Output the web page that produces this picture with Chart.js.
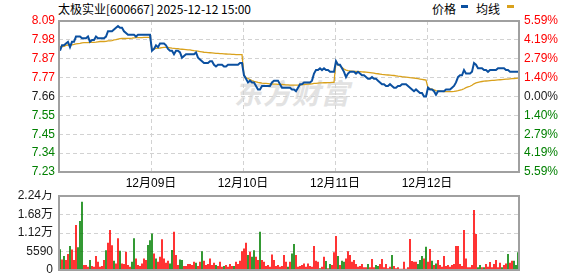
<!DOCTYPE html>
<html>
<head>
<meta charset="utf-8">
<script src="https://cdn.jsdelivr.net/npm/chart.js"></script>
<style>
body{margin:0;background:#fff;}
#wrap{position:relative;width:578px;height:276px;overflow:hidden;font-family:"Noto Sans CJK SC",sans-serif;}
#title{position:absolute;left:58px;top:0px;font-size:12px;line-height:18px;color:#000;white-space:nowrap;}
.lg{position:absolute;top:0px;font-size:12px;line-height:18px;color:#000;white-space:nowrap;}
.mk{position:absolute;top:5px;width:7px;height:3px;}
#mark{position:absolute;left:234px;top:72px;font-size:28px;font-weight:bold;color:#e2e2e2;letter-spacing:1px;white-space:nowrap;font-style:italic;}
canvas{position:absolute;left:0;}
</style>
</head>
<body>
<div id="wrap">
  <div id="mark">东方财富</div>
  <div id="title">太极实业[600667] 2025-12-12 15:00</div>
  <div class="lg" style="left:432px">价格</div>
  <div class="mk" style="left:461px;background:#0b50a0"></div>
  <div class="lg" style="left:476px">均线</div>
  <div class="mk" style="left:507px;background:#d9a11c"></div>
  <canvas id="priceChart" width="578" height="195" style="top:0"></canvas>
  <canvas id="volChart" width="578" height="86" style="top:190px"></canvas>
</div>
<script>
// 昨收 和 涨跌幅范围
const preClose = 7.66;
const maxPct = 5.59;

const dateLabels = ["12月09日", "12月10日", "12月11日", "12月12日"];
const ptsPerDay = 46;

const priceTickLabels = ["7.23","7.34","7.45","7.55","7.66","7.77","7.87","7.98","8.09"];
const pctTickLabels = ["5.59%","4.19%","2.79%","1.40%","0.00%","1.40%","2.79%","4.19%","5.59%"];

const volTicks = [0, 5590, 11180, 16770, 22360];
const volTickLabels = ["0", "5590", "1.12万", "1.68万", "2.24万"];

// 价格 (5 days)
const prices = [
7.92,7.95,7.95,7.96,7.97,7.94,7.97,7.97,8.00,8.00,
8.00,7.99,7.99,7.99,8.00,7.97,7.98,7.98,8.00,7.99,
7.99,7.99,7.99,8.00,8.03,8.03,8.03,8.04,8.05,8.06,
8.05,8.05,8.03,8.02,8.01,8.01,8.01,8.01,8.00,8.01,
8.01,8.01,8.01,8.01,8.01,8.01,
7.92,7.93,7.95,7.94,7.96,7.96,7.96,7.95,7.93,7.92,
7.92,7.90,7.92,7.92,7.91,7.88,7.89,7.90,7.90,7.90,
7.90,7.90,7.91,7.88,7.87,7.86,7.85,7.85,7.85,7.86,
7.86,7.84,7.83,7.84,7.84,7.84,7.83,7.83,7.84,7.84,
7.84,7.84,7.84,7.84,7.85,7.85,
7.78,7.76,7.74,7.75,7.74,7.74,7.72,7.70,7.70,7.72,
7.72,7.72,7.72,7.72,7.74,7.75,7.75,7.75,7.73,7.71,
7.71,7.71,7.71,7.71,7.70,7.70,7.69,7.71,7.73,7.73,
7.74,7.74,7.74,7.74,7.75,7.79,7.81,7.81,7.82,7.81,
7.82,7.81,7.81,7.80,7.80,7.80,
7.86,7.84,7.84,7.82,7.80,7.77,7.79,7.80,7.80,7.80,
7.79,7.80,7.79,7.78,7.78,7.77,7.76,7.76,7.77,7.76,
7.76,7.75,7.74,7.73,7.73,7.72,7.72,7.73,7.72,7.71,
7.71,7.72,7.72,7.73,7.73,7.73,7.72,7.71,7.70,7.69,
7.70,7.69,7.68,7.68,7.66,7.66,
7.71,7.70,7.70,7.69,7.67,7.69,7.69,7.69,7.69,7.70,
7.70,7.70,7.71,7.72,7.74,7.77,7.78,7.78,7.81,7.79,
7.79,7.79,7.80,7.85,7.84,7.82,7.82,7.82,7.81,7.81,
7.80,7.81,7.81,7.81,7.81,7.82,7.82,7.82,7.82,7.81,
7.81,7.80,7.80,7.80,7.80,7.80
];

// 均线
const avgPrices = [
7.943,7.943,7.944,7.950,7.952,7.952,7.953,7.955,7.958,7.960,
7.961,7.964,7.965,7.966,7.966,7.967,7.967,7.967,7.968,7.970,
7.972,7.972,7.972,7.973,7.975,7.976,7.977,7.981,7.983,7.986,
7.988,7.989,7.989,7.989,7.990,7.990,7.991,7.993,7.994,7.994,
7.994,7.994,7.995,7.995,7.995,7.995,
7.925,7.930,7.933,7.934,7.935,7.937,7.939,7.939,7.938,7.936,
7.934,7.933,7.932,7.931,7.929,7.928,7.927,7.926,7.925,7.924,
7.922,7.920,7.919,7.917,7.915,7.913,7.911,7.910,7.909,7.908,
7.907,7.906,7.905,7.904,7.903,7.903,7.902,7.901,7.900,7.900,
7.899,7.899,7.898,7.898,7.897,7.897,
7.780,7.768,7.762,7.756,7.750,7.746,7.743,7.740,7.738,7.736,
7.735,7.734,7.733,7.732,7.731,7.730,7.730,7.729,7.729,7.728,
7.727,7.726,7.726,7.725,7.725,7.724,7.724,7.724,7.725,7.727,
7.728,7.729,7.730,7.731,7.732,7.734,7.735,7.736,7.737,7.737,
7.738,7.738,7.739,7.739,7.740,7.740,
7.855,7.842,7.833,7.825,7.816,7.810,7.807,7.805,7.804,7.803,
7.802,7.801,7.801,7.800,7.799,7.798,7.797,7.796,7.794,7.792,
7.790,7.789,7.787,7.785,7.784,7.783,7.782,7.781,7.780,7.779,
7.777,7.775,7.774,7.772,7.771,7.770,7.769,7.767,7.766,7.765,
7.763,7.761,7.759,7.757,7.755,7.753,
7.710,7.705,7.702,7.698,7.694,7.691,7.690,7.689,7.688,7.688,
7.688,7.688,7.688,7.689,7.691,7.693,7.696,7.699,7.704,7.710,
7.714,7.718,7.724,7.732,7.737,7.740,7.743,7.745,7.747,7.748,
7.749,7.750,7.751,7.752,7.753,7.754,7.755,7.756,7.757,7.758,
7.759,7.760,7.761,7.762,7.763,7.764
];

// 成交量
const volumes = [
6240,3200,4200,3000,4800,7250,6200,3000,13600,6850,
14800,20600,1500,1500,1000,3000,1200,1000,4200,2500,
1000,1200,3000,6000,8250,12100,7500,2800,2000,9570,
5800,2000,1800,5500,1500,1000,2500,9570,3500,1500,
1200,2000,3500,3000,7550,9000,11000,5000,3500,2500,
4000,9270,3500,2200,2800,2000,6040,11580,4500,1500,
3200,3000,1200,1200,1800,1800,1500,2500,2200,1200,
2500,5700,2800,1500,1800,3500,1500,2200,1500,1200,
2500,1000,1200,1500,1000,1800,1200,1200,2500,1800,
2800,5700,6500,8250,4500,5500,4000,6000,4000,3000,
11580,3000,2500,1200,1500,1000,4700,3000,1200,1500,
1000,1200,4500,2500,1000,2500,5000,7850,4500,1000,
1200,1500,2000,1000,2000,1200,1000,7250,2800,2500,
500,1000,4000,2700,500,1800,1500,5400,10270,4200,
1500,2800,2500,3500,5700,4500,2500,3000,1800,1000,
1200,1800,800,800,1800,800,3300,800,1500,1200,
1800,3300,800,1800,500,1000,4500,1200,500,800,
400,400,2500,400,800,9370,2700,2500,2500,1800,
3000,4200,3500,7000,2500,6350,2800,1500,2000,3000,
1500,1000,4200,1200,1500,1000,1500,1800,7250,7250,
1800,1200,12100,3500,800,800,1500,18100,10870,800,
1500,800,800,1800,1000,2400,800,1800,3000,800,
2200,800,1500,2000,4800,2200,2800,2800,1500,5400
];
// 1 = 红(上涨), 0 = 绿(下跌)
const volUp = [
0,1,0,1,1,0,1,1,1,0,
0,0,1,1,1,0,1,1,1,1,
1,1,1,0,1,1,1,0,1,1,
0,1,1,1,1,1,0,0,1,1,
1,1,1,1,0,0,0,1,0,1,
1,1,1,1,1,0,0,1,1,1,
0,0,1,1,1,1,1,1,0,1,
1,0,1,1,1,1,1,1,0,1,
1,1,0,1,1,1,1,0,1,1,
1,1,1,1,0,1,0,0,1,1,
0,1,1,1,1,1,1,1,1,1,
1,1,1,1,0,1,0,0,1,1,
1,1,1,1,1,1,1,1,1,1,
0,1,1,0,1,0,1,1,1,0,
1,0,0,1,1,1,1,1,1,1,
1,1,1,1,0,1,1,1,0,0,
1,1,1,1,1,1,0,1,1,1,
1,1,1,1,1,1,1,1,1,0,
0,0,1,0,1,1,0,1,0,1,
1,1,1,1,1,1,1,1,1,1,
1,1,1,1,1,1,1,1,1,0,
0,1,0,1,1,1,1,1,1,1,
1,0,1,1,0,1,1,0,0,0
];

const RED = "#ff0000", GREEN = "#008000", DARK = "#1a1a1a";
const GRID = "#d2d2d2";
const numFont = {family: '"Liberation Sans", "Noto Sans CJK SC", sans-serif', size: 12};

const priceMin = preClose * (1 - maxPct / 100);
const priceMax = preClose * (1 + maxPct / 100);
const priceStep = (priceMax - priceMin) / (priceTickLabels.length - 1);

const frame = {
  id: "frame",
  afterDatasetsDraw(chart) {
    const a = chart.chartArea, c = chart.ctx;
    c.save();
    c.strokeStyle = "#a0a0a0";
    c.lineWidth = 2;
    c.strokeRect(a.left, a.top, a.right - a.left, a.bottom - a.top);
    c.restore();
  }
};

function tickColor(c) {
  const mid = (priceTickLabels.length - 1) / 2;
  return c.index > mid ? RED : (c.index === mid ? DARK : GREEN);
}

function priceAxis(pos, labels) {
  return {
    position: pos,
    min: priceMin,
    max: priceMax,
    afterBuildTicks: s => { s.ticks = labels.map((t, k) => ({value: priceMin + k * priceStep})); },
    afterFit: s => { s.width = 59; s.paddingTop = 0; s.paddingBottom = 0; },
    grid: {color: GRID, lineWidth: 1, drawTicks: false, drawOnChartArea: pos === "left"},
    border: {display: false, dash: [4, 3]},
    ticks: {
      autoSkip: false,
      padding: pos === "left" ? 4 : 5,
      font: numFont,
      color: tickColor,
      callback: (v, i) => labels[i]
    }
  };
}

new Chart(document.getElementById("priceChart"), {
  type: "line",
  data: {
    datasets: [
      {
        label: "价格",
        data: prices.map((v, i) => ({x: i + 0.5, y: v})),
        borderColor: "#0b50a0",
        borderWidth: 2,
        pointRadius: 0,
        tension: 0,
        yAxisID: "y"
      },
      {
        label: "均线",
        data: avgPrices.map((v, i) => ({x: i + 0.5, y: v})),
        borderColor: "#d9a11c",
        borderWidth: 1.3,
        pointRadius: 0,
        tension: 0,
        yAxisID: "y"
      }
    ]
  },
  options: {
    responsive: false,
    animation: false,
    devicePixelRatio: 1,
    events: [],
    layout: {padding: {top: 21, left: 0, right: 0, bottom: 0}},
    plugins: {legend: {display: false}, tooltip: {enabled: false}},
    scales: {
      x: {
        type: "linear",
        min: 0,
        max: prices.length,
        afterBuildTicks: s => { s.ticks = dateLabels.map((d, k) => ({value: (k + 1) * ptsPerDay})); },
        afterFit: s => { s.height = 23; s.paddingLeft = 0; s.paddingRight = 0; },
        grid: {color: GRID, lineWidth: 1, drawTicks: false},
        border: {display: false, dash: [4, 3]},
        ticks: {
          autoSkip: false,
          maxRotation: 0,
          padding: 4,
          font: numFont,
          color: "#000",
          callback: (v, i) => dateLabels[i]
        }
      },
      y: priceAxis("left", priceTickLabels),
      y1: priceAxis("right", pctTickLabels)
    }
  },
  plugins: [frame]
});

new Chart(document.getElementById("volChart"), {
  type: "bar",
  data: {
    labels: volumes.map((v, i) => i),
    datasets: [{
      data: volumes,
      backgroundColor: volUp.map(u => u ? RED : GREEN),
      barPercentage: 0.8,
      categoryPercentage: 1
    }]
  },
  options: {
    responsive: false,
    animation: false,
    devicePixelRatio: 1,
    events: [],
    layout: {padding: {top: 6, left: 0, right: 59, bottom: 6}},
    plugins: {legend: {display: false}, tooltip: {enabled: false}},
    scales: {
      x: {display: false},
      y: {
        min: 0,
        max: volTicks[volTicks.length - 1],
        afterBuildTicks: s => { s.ticks = volTicks.map(v => ({value: v})); },
        afterFit: s => { s.width = 59; s.paddingTop = 0; s.paddingBottom = 0; },
        grid: {color: GRID, lineWidth: 1, drawTicks: false},
        border: {display: false, dash: [4, 3]},
        ticks: {
          autoSkip: false,
          padding: 6,
          font: numFont,
          color: DARK,
          callback: (v, i) => volTickLabels[i]
        }
      }
    }
  },
  plugins: [frame]
});
</script>
</body>
</html>
